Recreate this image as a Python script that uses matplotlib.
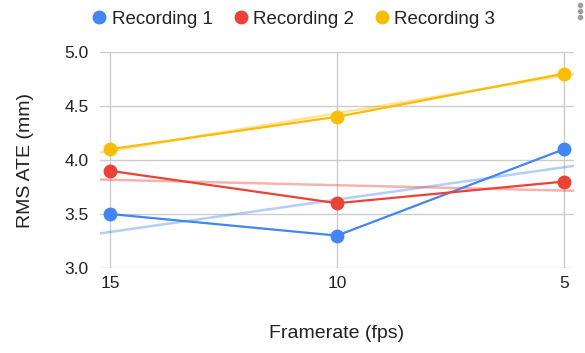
import matplotlib
matplotlib.use('Agg')
import matplotlib.pyplot as plt
from matplotlib.lines import Line2D
import numpy as np

# data
framerates = ['15', '10', '5']
rec1 = [3.5, 3.3, 4.1]
rec2 = [3.9, 3.6, 3.8]
rec3 = [4.1, 4.4, 4.8]
series_names = ['Recording 1', 'Recording 2', 'Recording 3']
colors = ['#4285F4', '#EA4335', '#FBBC04']

plt.rcParams['font.family'] = ['Liberation Sans', 'DejaVu Sans']

fig = plt.figure(figsize=(5.85, 3.53), dpi=100)
ax = fig.add_axes([100 / 585, 1 - 268 / 353, 474 / 585, 216 / 353])

x = np.arange(len(framerates))
xlim = (-0.044, 2.044)

for ys, c in zip([rec1, rec2, rec3], colors):
    # linear trendline over the category index
    k, b = np.polyfit(x, ys, 1)
    xt = np.array(xlim)
    ax.plot(xt, k * xt + b, color=c, alpha=0.4, lw=1.8, zorder=2,
            solid_capstyle='butt')
    ax.plot(x, ys, color=c, lw=1.6, marker='o', ms=9, zorder=3)

ax.set_xlim(*xlim)
ax.set_ylim(3.0, 5.0)
ax.set_xticks(x)
ax.set_xticklabels(framerates)
ax.set_yticks([3.0, 3.5, 4.0, 4.5, 5.0])
ax.set_yticklabels(['3.0', '3.5', '4.0', '4.5', '5.0'])

for s in ax.spines.values():
    s.set_visible(False)
ax.grid(True, color='#cccccc', lw=1)
ax.set_axisbelow(True)
ax.tick_params(axis='y', length=0, pad=8, labelsize=12.5, labelcolor='#222222')
ax.tick_params(axis='x', length=0, pad=6, labelsize=12.5, labelcolor='#222222')
ax.set_ylabel('RMS ATE (mm)', fontsize=14, color='#222222', labelpad=22)
ax.set_xlabel('Framerate (fps)', fontsize=14, color='#222222', labelpad=24)

handles = [Line2D([], [], ls='none', marker='o', ms=9, color=c) for c in colors]
fig.legend(handles, series_names, loc='center', bbox_to_anchor=(0.5, 1 - 19 / 353),
           ncol=3, frameon=False, fontsize=13.5, handletextpad=0.15,
           columnspacing=1.0, handlelength=1.0, labelcolor='#222222')

# menu dots in the top right corner
fig.add_artist(Line2D([580 / 585] * 3, [1 - 5 / 353, 1 - 11 / 353, 1 - 17 / 353],
                      ls='none', marker='o', ms=3, color='#9e9e9e',
                      transform=fig.transFigure))

fig.savefig('out.png', dpi=100)
